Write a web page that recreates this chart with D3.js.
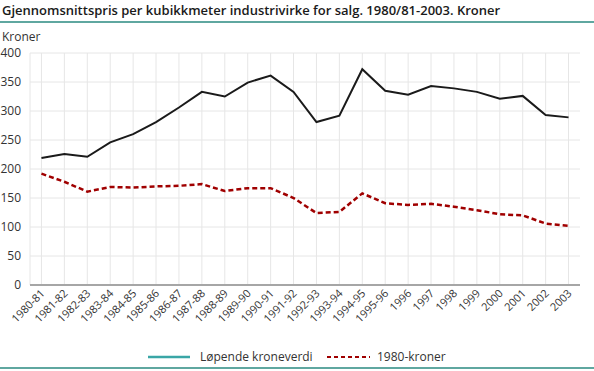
<!DOCTYPE html>
<html lang="no">
<head>
    <meta charset="UTF-8">
    <title>Gjennomsnittspris per kubikkmeter industrivirke</title>
    <script src="https://d3js.org/d3.v7.min.js"></script>
    <style>
        body { margin: 0; background: #fff; }
        svg { display: block; font-family: "Open Sans", "DejaVu Sans", sans-serif; }
        .grid line { stroke: #e6e6e6; stroke-width: 1; }
        .tick-label { fill: #333; font-size: 12px; }
    </style>
</head>
<body>
    <svg width="594" height="371"></svg>

    <script>
        // data
        const years = ["1980-81", "1981-82", "1982-83", "1983-84", "1984-85", "1985-86",
            "1986-87", "1987-88", "1988-89", "1989-90", "1990-91", "1991-92", "1992-93",
            "1993-94", "1994-95", "1995-96", "1996", "1997", "1998", "1999", "2000",
            "2001", "2002", "2003"];
        const lopende = [219, 226, 221, 246, 260, 281, 306, 333, 325, 349, 361, 333, 281,
            292, 372, 335, 328, 343, 339, 333, 321, 326, 293, 289];
        const kroner1980 = [192, 178, 161, 169, 168, 170, 171, 174, 162, 167, 167, 150, 124,
            126, 158, 141, 138, 140, 135, 129, 122, 120, 106, 102];
        const yTicks = [0, 50, 100, 150, 200, 250, 300, 350, 400];
        const seriesNames = ["Løpende kroneverdi", "1980-kroner"];

        const svg = d3.select("svg");
        const plotL = 30, plotR = 580, plotT = 53, plotB = 285;

        const x = d3.scaleBand().domain(years).range([plotL, plotR]);
        const cx = d => x(d) + x.bandwidth() / 2;
        const y = d3.scaleLinear().domain([0, 400]).range([plotB, plotT]);

        // title + rules
        svg.append("text")
            .attr("x", 2).attr("y", 15)
            .style("font-size", "13px").style("font-weight", "600")
            .attr("fill", "#1a1a1a")
            .text("Gjennomsnittspris per kubikkmeter industrivirke for salg. 1980/81-2003. Kroner");
        svg.append("line").attr("x1", 0).attr("x2", 594).attr("y1", 22).attr("y2", 22)
            .attr("stroke", "#2a8a80").attr("stroke-width", 1.5);
        svg.append("line").attr("x1", 0).attr("x2", 594).attr("y1", 368).attr("y2", 368)
            .attr("stroke", "#2a8a80").attr("stroke-width", 1.5);

        svg.append("text").attr("class", "tick-label")
            .attr("x", 2).attr("y", 41).text("Kroner");

        // grid
        const grid = svg.append("g").attr("class", "grid");
        grid.selectAll(".h").data(yTicks.filter(d => d > 0)).enter().append("line")
            .attr("x1", plotL).attr("x2", plotR)
            .attr("y1", d => y(d)).attr("y2", d => y(d));
        grid.selectAll(".v").data(years).enter().append("line")
            .attr("x1", d => cx(d)).attr("x2", d => cx(d))
            .attr("y1", plotT).attr("y2", plotB);
        grid.append("line").attr("x1", plotL).attr("x2", plotL).attr("y1", plotT).attr("y2", plotB);

        // y labels
        svg.selectAll(".ylab").data(yTicks).enter().append("text")
            .attr("class", "tick-label")
            .attr("x", 21).attr("y", d => y(d) + 4)
            .attr("text-anchor", "end")
            .text(d => d);

        // x axis
        svg.append("line").attr("x1", plotL).attr("x2", plotR)
            .attr("y1", plotB).attr("y2", plotB)
            .attr("stroke", "#a6a6a6").attr("stroke-width", 2);
        svg.selectAll(".xlab").data(years).enter().append("text")
            .attr("class", "tick-label")
            .style("font-size", "11px")
            .attr("text-anchor", "end")
            .attr("transform", d => "translate(" + (cx(d) + 4) + "," + (plotB + 9) + ") rotate(-45)")
            .text(d => d);

        // lines
        const line = d3.line().x((d, i) => cx(years[i])).y(d => y(d));
        svg.append("path").datum(lopende)
            .attr("d", line).attr("fill", "none")
            .attr("stroke", "#1a1a1a").attr("stroke-width", 2);
        svg.append("path").datum(kroner1980)
            .attr("d", line).attr("fill", "none")
            .attr("stroke", "#a00000").attr("stroke-width", 2.5)
            .attr("stroke-dasharray", "5,3");

        // legend
        const lg = svg.append("g");
        lg.append("line").attr("x1", 148).attr("x2", 190).attr("y1", 357).attr("y2", 357)
            .attr("stroke", "#3aa6a6").attr("stroke-width", 2.5);
        lg.append("text").attr("class", "tick-label").attr("x", 200).attr("y", 361).text(seriesNames[0]);
        lg.append("line").attr("x1", 327).attr("x2", 370).attr("y1", 357).attr("y2", 357)
            .attr("stroke", "#a00000").attr("stroke-width", 2).attr("stroke-dasharray", "4,3");
        lg.append("text").attr("class", "tick-label").attr("x", 377).attr("y", 361).text(seriesNames[1]);
    </script>
</body>
</html>
